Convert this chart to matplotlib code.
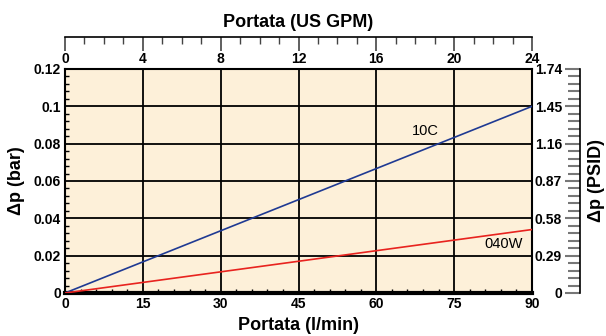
import numpy as np
import matplotlib
matplotlib.use('Agg')
import matplotlib.pyplot as plt
from matplotlib.ticker import MultipleLocator

plt.rcParams['font.family'] = ['Liberation Sans', 'DejaVu Sans']

# data
flow_lmin = [0, 90]
dp_10c = [0, 0.100]
dp_040w = [0, 0.034]
series_names = ['10C', '040W']
series_colors = ['#1f3a93', '#e8231f']

x_ticks = [0, 15, 30, 45, 60, 75, 90]
y_ticks = [0, 0.02, 0.04, 0.06, 0.08, 0.1, 0.12]
gpm_ticks = [0, 4, 8, 12, 16, 20, 24]
psi_ticks = [0, 0.29, 0.58, 0.87, 1.16, 1.45, 1.74]

W, H = 606, 336
fig = plt.figure(figsize=(W / 100, H / 100), dpi=100)

# plot area in pixels
L, R, T, B = 65, 532, 69, 293
ax = fig.add_axes([L / W, 1 - B / H, (R - L) / W, (B - T) / H])
ax.set_facecolor('#fdf0d9')

ax.plot(flow_lmin, dp_10c, color=series_colors[0], lw=1.2, zorder=3)
ax.plot(flow_lmin, dp_040w, color=series_colors[1], lw=1.2, zorder=3)
ax.text(69.5, 0.0868, series_names[0], fontsize=10.5, ha='center', va='center')
ax.text(84.5, 0.0263, series_names[1], fontsize=10.5, ha='center', va='center')

ax.set_xlim(0, 90)
ax.set_ylim(0, 0.12)
ax.set_xticks(x_ticks)
ax.set_yticks(y_ticks)
ax.set_xticklabels([str(v) for v in x_ticks])
ax.set_yticklabels(['%g' % v for v in y_ticks])
ax.xaxis.set_minor_locator(MultipleLocator(3))
ax.yaxis.set_minor_locator(MultipleLocator(0.004))
ax.tick_params(which='both', direction='in', top=False, right=False,
               labelsize=10, color='black')
ax.tick_params(which='major', length=0, pad=3)
ax.tick_params(which='minor', length=3, width=1)
for lab in ax.get_xticklabels() + ax.get_yticklabels():
    lab.set_fontweight('bold')
ax.grid(True, which='major', color='black', lw=1.3, zorder=1)
ax.set_axisbelow(True)
for s in ['top', 'right']:
    ax.spines[s].set_linewidth(1.5)
ax.spines['left'].set_linewidth(1.5)
ax.spines['bottom'].set_linewidth(3)
ax.set_xlabel('Portata (l/min)', fontsize=13, fontweight='bold', labelpad=4)
ax.set_ylabel('\u0394p (bar)', fontsize=13, fontweight='bold', labelpad=6)

# top axis: line above plot, ticks down, labels below
yt = 37
axt = fig.add_axes([L / W, 1 - yt / H, (R - L) / W, 0.0001])
axt.set_facecolor('none')
for s in ['top', 'left', 'right']:
    axt.spines[s].set_visible(False)
axt.spines['bottom'].set_linewidth(1.2)
axt.set_xlim(0, 24)
axt.set_yticks([])
axt.set_xticks(gpm_ticks)
axt.set_xticklabels([str(v) for v in gpm_ticks], fontweight='bold')
axt.xaxis.set_minor_locator(MultipleLocator(1))
axt.tick_params(which='both', direction='out', labelsize=10, color='#444444')
axt.tick_params(which='major', length=10, width=1.2, pad=1)
axt.tick_params(which='minor', length=5, width=1)
axt.set_title('Portata (US GPM)', fontsize=13, fontweight='bold', pad=7)

# right axis: line to the right of plot, ticks pointing left, labels left
xr = 580
axr = fig.add_axes([xr / W, 1 - B / H, 0.0001, (B - T) / H])
axr.set_facecolor('none')
for s in ['top', 'bottom', 'right']:
    axr.spines[s].set_visible(False)
axr.spines['left'].set_linewidth(1.2)
axr.set_ylim(0, 1.74)
axr.set_xticks([])
axr.set_yticks(psi_ticks)
axr.set_yticklabels(['%g' % v for v in psi_ticks], fontweight='bold')
axr.yaxis.set_minor_locator(MultipleLocator(0.058))
axr.tick_params(which='both', direction='out', labelsize=10, color='#777777')
axr.tick_params(which='major', length=11, width=1.5, pad=2)
axr.tick_params(which='minor', length=9, width=1.5)
axr.yaxis.set_label_position('right')
axr.set_ylabel('\u0394p (PSID)', fontsize=13, fontweight='bold', labelpad=6)

fig.savefig('out.png', dpi=100)
